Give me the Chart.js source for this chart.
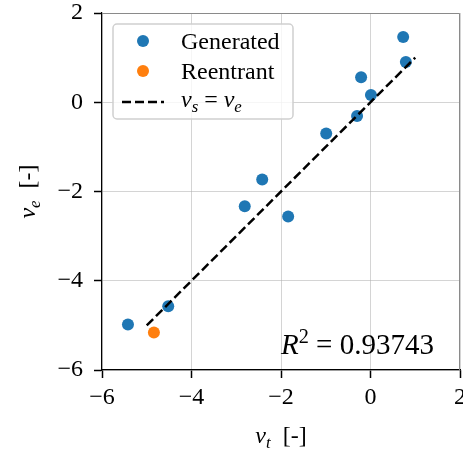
<!DOCTYPE html>
<html>
<head>
<meta charset="utf-8">
<script src="https://cdn.jsdelivr.net/npm/chart.js@4.4.1/dist/chart.umd.min.js"></script>
<style>
  body { margin: 0; background: #fff; }
  #wrap { width: 463px; height: 452px; }
</style>
</head>
<body>
<div id="wrap"><canvas id="myChart" width="463" height="452"></canvas></div>
<script>
// values
const generatedX = [0.73, 0.79, -0.21, 0.01, -0.30, -0.99, -2.42, -2.81, -1.84, -4.52, -5.42];
const generatedY = [1.46, 0.90, 0.56, 0.16, -0.31, -0.70, -1.73, -2.33, -2.56, -4.57, -4.98];
const reentrantX = [-4.84];
const reentrantY = [-5.16];
const identityX = [-5, 1];
const identityY = [-5, 1];
const xTicks = [-6, -4, -2, 0, 2];
const yTicks = [-6, -4, -2, 0, 2];
const r2Value = "0.93743";

const SERIF = '"Liberation Serif", "DejaVu Serif", serif';
const BLUE = "#1f77b4";
const ORANGE = "#ff7f0e";

function pts(xs, ys) {
  return xs.map((x, i) => ({ x: x, y: ys[i] }));
}
function fmt(v) {
  return v < 0 ? "\u2212" + Math.abs(v) : String(v);
}

// draw a list of text runs: {t, it, sub, sup}
function runs(ctx, parts, x, y, size, align) {
  var w = 0;
  parts.forEach(p => {
    var s = (p.sub || p.sup) ? size * 0.7 : size;
    ctx.font = (p.it ? "italic " : "") + s + "px " + SERIF;
    p.w = ctx.measureText(p.t).width;
    w += p.w;
  });
  var cx = align === "center" ? x - w / 2 : x;
  ctx.textBaseline = "alphabetic";
  ctx.textAlign = "left";
  parts.forEach(p => {
    var s = (p.sub || p.sup) ? size * 0.7 : size;
    ctx.font = (p.it ? "italic " : "") + s + "px " + SERIF;
    var dy = p.sub ? size * 0.22 : (p.sup ? -size * 0.38 : 0);
    ctx.fillText(p.t, cx, y + dy);
    cx += p.w;
  });
}

const extras = {
  id: "extras",
  afterDraw(chart) {
    const ctx = chart.ctx;
    const a = chart.chartArea;
    ctx.save();
    ctx.fillStyle = "#000";

    // top / right spines
    ctx.strokeStyle = "#8a8a8a";
    ctx.lineWidth = 1;
    ctx.beginPath();
    ctx.moveTo(a.left, a.top + 0.5);
    ctx.lineTo(a.right - 0.5, a.top + 0.5);
    ctx.lineTo(a.right - 0.5, a.bottom);
    ctx.stroke();

    // axis titles
    runs(ctx, [{ t: "\u03bd", it: true }, { t: "t", it: true, sub: true }, { t: "  [-]" }],
      (a.left + a.right) / 2, 443, 24, "center");
    ctx.save();
    ctx.translate(35, (a.top + a.bottom) / 2);
    ctx.rotate(-Math.PI / 2);
    runs(ctx, [{ t: "\u03bd", it: true }, { t: "e", it: true, sub: true }, { t: "  [-]" }],
      0, 0, 24, "center");
    ctx.restore();

    // R^2 annotation
    runs(ctx, [{ t: "R", it: true }, { t: "2", sup: true }, { t: " = " + r2Value }],
      281, 354, 29, "left");

    // legend
    const lx = 113, ly = 24, lw = 180, lh = 95;
    ctx.beginPath();
    ctx.roundRect(lx, ly, lw, lh, 4);
    ctx.fillStyle = "rgba(255,255,255,0.8)";
    ctx.fill();
    ctx.strokeStyle = "#d0d0d0";
    ctx.lineWidth = 1.5;
    ctx.stroke();

    const ds = chart.data.datasets;
    const rows = [41, 71, 102];
    ctx.fillStyle = ds[0].backgroundColor;
    ctx.beginPath(); ctx.arc(143, rows[0], 6, 0, Math.PI * 2); ctx.fill();
    ctx.fillStyle = ds[1].backgroundColor;
    ctx.beginPath(); ctx.arc(143, rows[1], 6, 0, Math.PI * 2); ctx.fill();
    ctx.strokeStyle = "#000";
    ctx.lineWidth = ds[2].borderWidth;
    ctx.setLineDash(ds[2].borderDash);
    ctx.beginPath(); ctx.moveTo(122, rows[2]); ctx.lineTo(164, rows[2]); ctx.stroke();
    ctx.setLineDash([]);

    ctx.fillStyle = "#000";
    runs(ctx, [{ t: ds[0].label }], 181, rows[0] + 8, 24, "left");
    runs(ctx, [{ t: ds[1].label }], 181, rows[1] + 8, 24, "left");
    runs(ctx, [{ t: "\u03bd", it: true }, { t: "s", it: true, sub: true }, { t: " = " },
      { t: "\u03bd", it: true }, { t: "e", it: true, sub: true }], 181, rows[2] + 5, 24, "left");
    ctx.restore();
  }
};

const ctx = document.getElementById("myChart").getContext("2d");
const myChart = new Chart(ctx, {
  type: "scatter",
  data: {
    datasets: [
      {
        label: "Generated",
        data: pts(generatedX, generatedY),
        backgroundColor: BLUE,
        pointRadius: 6,
        borderWidth: 0,
        order: 2,
      },
      {
        label: "Reentrant",
        data: pts(reentrantX, reentrantY),
        backgroundColor: ORANGE,
        pointRadius: 6,
        borderWidth: 0,
        order: 1,
      },
      {
        type: "line",
        label: "identity",
        data: pts(identityX, identityY),
        borderColor: "#000",
        borderWidth: 2.5,
        borderDash: [9, 4],
        pointRadius: 0,
        fill: false,
        order: 0,
      },
    ],
  },
  options: {
    responsive: false,
    animation: false,
    layout: { autoPadding: false, padding: { top: 13, right: 3, left: 0, bottom: 0 } },
    plugins: { legend: { display: false }, tooltip: { enabled: false } },
    scales: {
      x: {
        type: "linear",
        min: -6,
        max: 2,
        afterBuildTicks: (s) => { s.ticks = xTicks.map(v => ({ value: v })); },
        afterFit: (s) => { s.height = 82; s.paddingLeft = 0; s.paddingRight = 0; },
        ticks: {
          color: "#000",
          font: { family: SERIF, size: 24 },
          padding: 5,
          maxRotation: 0,
          callback: (v) => fmt(v),
        },
        grid: { color: "rgba(176,176,176,0.55)", tickColor: "#000", tickLength: 8, tickWidth: 1.5 },
        border: { color: "#000", width: 1.2 },
      },
      y: {
        type: "linear",
        min: -6,
        max: 2,
        afterBuildTicks: (s) => { s.ticks = yTicks.map(v => ({ value: v })); },
        afterFit: (s) => { s.width = 102; s.paddingTop = 0; s.paddingBottom = 0; },
        ticks: {
          color: "#000",
          font: { family: SERIF, size: 24 },
          padding: 11,
          callback: (v) => fmt(v),
        },
        grid: { color: "rgba(176,176,176,0.55)", tickColor: "#000", tickLength: 8, tickWidth: 1.5 },
        border: { color: "#000", width: 1.2 },
      },
    },
  },
  plugins: [extras],
});
</script>
</body>
</html>
